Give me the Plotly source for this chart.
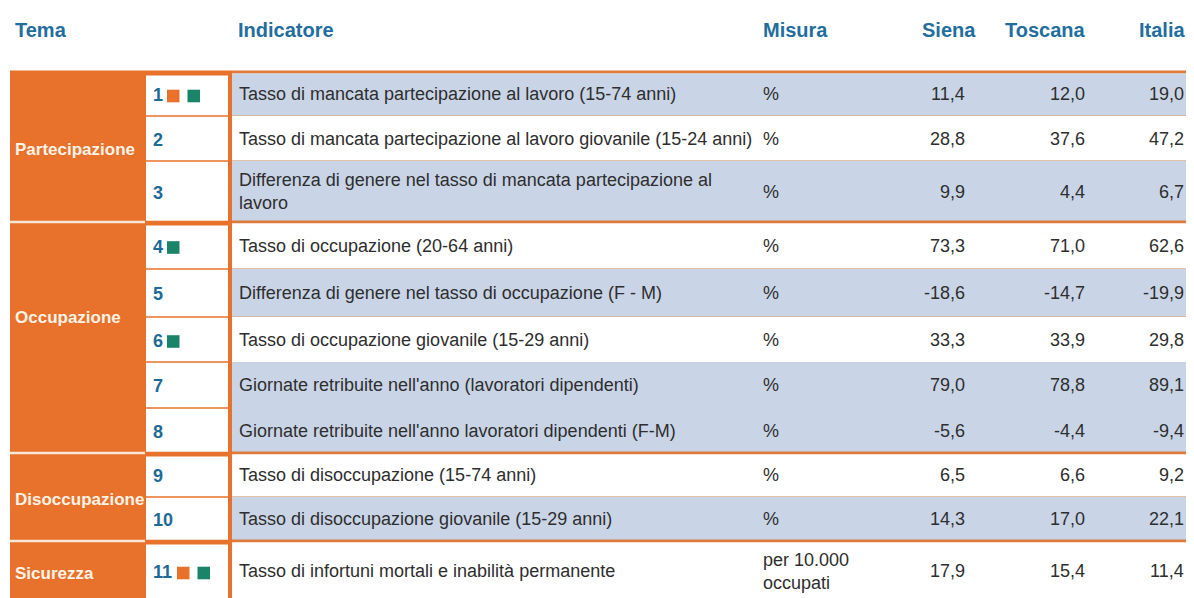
import plotly.graph_objects as go

# ---------------- data ----------------
intestazioni = ["Tema", "Indicatore", "Misura", "Siena", "Toscana", "Italia"]
tema_per_riga = ["Partecipazione", "Partecipazione", "Partecipazione",
                 "Occupazione", "Occupazione", "Occupazione", "Occupazione", "",
                 "Disoccupazione", "Disoccupazione", "Sicurezza"]
gruppo = [1, 1, 1, 2, 2, 2, 2, 2, 3, 3, 4]
numeri = ["1", "2", "3", "4", "5", "6", "7", "8", "9", "10", "11"]
marcatori = [["o", "g"], [], [], ["g"], [], ["g"], [], [], [], [], ["o", "g"]]
indicatori = [
    "Tasso di mancata partecipazione al lavoro (15-74 anni)",
    "Tasso di mancata partecipazione al lavoro giovanile (15-24 anni)",
    "Differenza di genere nel tasso di mancata partecipazione al<br>lavoro",
    "Tasso di occupazione (20-64 anni)",
    "Differenza di genere nel tasso di occupazione (F - M)",
    "Tasso di occupazione giovanile (15-29 anni)",
    "Giornate retribuite nell'anno (lavoratori dipendenti)",
    "Giornate retribuite nell'anno lavoratori dipendenti (F-M)",
    "Tasso di disoccupazione (15-74 anni)",
    "Tasso di disoccupazione giovanile (15-29 anni)",
    "Tasso di infortuni mortali e inabilità permanente",
]
misura = ["%", "%", "%", "%", "%", "%", "%", "%", "%", "%", "per 10.000<br>occupati"]
siena = [11.4, 28.8, 9.9, 73.3, -18.6, 33.3, 79.0, -5.6, 6.5, 14.3, 17.9]
toscana = [12.0, 37.6, 4.4, 71.0, -14.7, 33.9, 78.8, -4.4, 6.6, 17.0, 15.4]
italia = [19.0, 47.2, 6.7, 62.6, -19.9, 29.8, 89.1, -9.4, 9.2, 22.1, 11.4]

# ---------------- style / layout ----------------
W, H = 1194, 598
OFF = 8  # default page margin of the html body
ORANGE = "#E8712B"
LINE_OR = "#DD7A3C"
THIN = "#D9AE8A"
CREAM = "#F6E7D6"
BLUE_ROW = "#C9D5E7"
HEAD = "#1F6E9E"
NUMC = "#1E6A96"
TXT = "#2E2E2E"
GREEN = "#1A8468"
FONT = "Liberation Sans, Arial, sans-serif"

row_h = [44, 45, 61, 47, 48, 45, 46, 45, 44, 44, 60]
fondo = ["b", "w", "b", "w", "b", "w", "b", "b", "w", "b", "w"]
linea_sottile = [True, True, False, True, True, False, False, False, True, False]
top0 = 72
tops = []
y = top0
for h in row_h:
    tops.append(y)
    y += h
bottoms = [t + h for t, h in zip(tops, row_h)]

X_TEMA0, X_TEMA1 = 10, 145
X_NUM0, X_NUM1 = 146, 228
X_DIV1 = 232
X_RIGHT = W + OFF

shapes = []
ann = []


def rect(x0, y0, x1, y1, color, layer="below"):
    shapes.append(dict(type="rect", xref="x", yref="y", x0=x0, x1=x1, y0=y0, y1=y1,
                       fillcolor=color, line=dict(width=0), layer=layer))


def text(x, yy, s, size, color, xanchor="left", bold=False):
    if bold:
        s = "<b>" + s + "</b>"
    ann.append(dict(x=x, y=yy, xref="x", yref="y", text=s, showarrow=False,
                    xanchor=xanchor, yanchor="middle", align="left",
                    font=dict(family=FONT, size=size, color=color)))


# header
hy = 30
HS = 20
text(13, hy, intestazioni[0], HS, HEAD, bold=True)
text(236, hy, intestazioni[1], HS, HEAD, bold=True)
text(761, hy, intestazioni[2], HS, HEAD, bold=True)
text(978, hy, intestazioni[3], HS, HEAD, "right", bold=True)
text(1088, hy, intestazioni[4], HS, HEAD, "right", bold=True)
text(1187, hy, intestazioni[5], HS, HEAD, "right", bold=True)

# orange left block (tema + divider)
rect(X_TEMA0, top0 - 1.5, X_DIV1, H + OFF + 5, ORANGE)
# top line across table
rect(X_DIV1, top0 - 1.5, X_RIGHT, top0 + 1.5, LINE_OR)

n = len(numeri)
for i in range(n):
    t, b = tops[i], bottoms[i]
    yc = (t + b) / 2
    first_of_group = (i == 0) or gruppo[i] != gruppo[i - 1]
    last_of_group = (i == n - 1) or gruppo[i] != gruppo[i + 1]
    # right area background
    rect(X_DIV1, t + (1.5 if first_of_group else 0), X_RIGHT, b, BLUE_ROW if fondo[i] == "b" else "white")
    # number cell
    rect(X_NUM0, t + (3.5 if first_of_group else 0.8), X_NUM1, b - (1.2 if last_of_group else 0.8), "white")
    # separators
    if i < n - 1:
        if last_of_group:
            rect(X_DIV1, b - 1.5, X_RIGHT, b + 1.5, LINE_OR)
            rect(X_TEMA0, b - 1.2, X_TEMA1, b + 1.2, CREAM)
        elif linea_sottile[i]:
            rect(X_DIV1, b - 0.8, X_RIGHT, b + 0.8, THIN)

    # number
    text(151, yc + 1, numeri[i], 18, NUMC, bold=True)
    # coloured squares after the number
    xs = 152 + 10 * len(numeri[i]) + 5
    for m in marcatori[i]:
        col = ORANGE if m == "o" else GREEN
        rect(xs, yc + 2 - 6.3, xs + 12.5, yc + 2 + 6.3, col, layer="above")
        xs += 20.5

    # indicator text, measure, values
    text(237, yc, indicatori[i], 18, TXT)
    text(761, yc, misura[i], 18, TXT)
    for xv, vals in ((967, siena), (1087, toscana), (1186, italia)):
        text(xv, yc, f"{vals[i]:.1f}".replace(".", ","), 18, TXT, "right")

# tema labels (centered over runs of equal labels)
i = 0
while i < n:
    j = i
    while j + 1 < n and tema_per_riga[j + 1] == tema_per_riga[i]:
        j += 1
    if tema_per_riga[i]:
        text(13, (tops[i] + bottoms[j]) / 2 + 2, tema_per_riga[i], 17, "#FFF3E8", bold=True)
    i = j + 1

fig = go.Figure()
fig.update_layout(
    width=W, height=H, margin=dict(l=0, r=0, t=0, b=0),
    paper_bgcolor="white", plot_bgcolor="white",
    xaxis=dict(range=[OFF, W + OFF], visible=False, fixedrange=True),
    yaxis=dict(range=[H + OFF, OFF], visible=False, fixedrange=True),
    shapes=shapes, annotations=ann, showlegend=False,
)
fig.write_html("out.html")
